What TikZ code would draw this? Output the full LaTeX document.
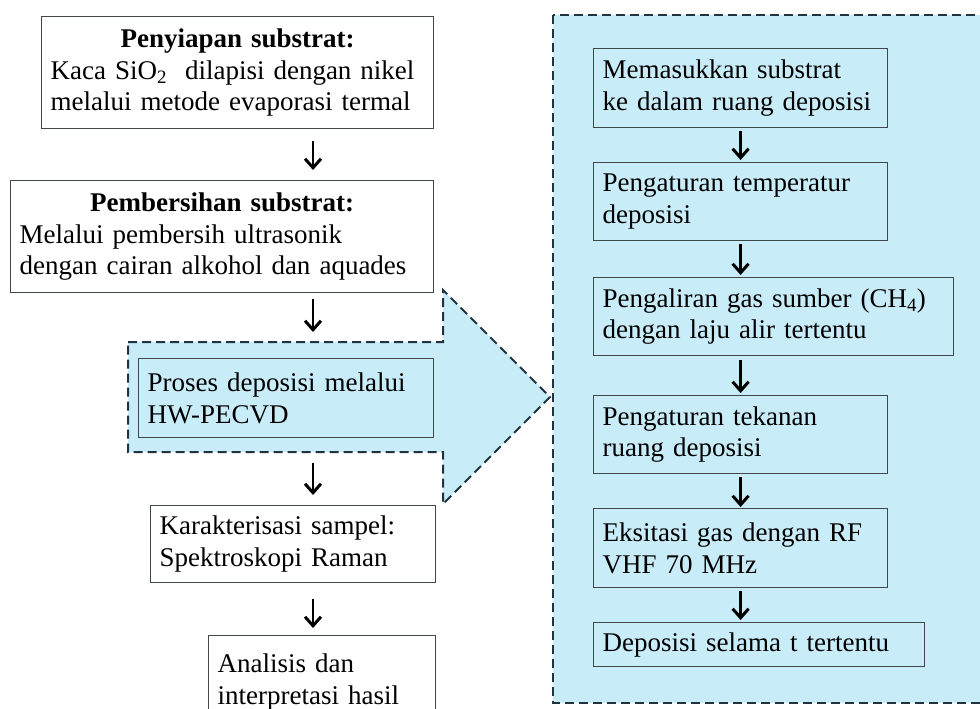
\documentclass[tikz,border=0pt]{standalone}
\usepackage{fontspec}
\setmainfont{Liberation Serif}
\usetikzlibrary{arrows.meta,positioning}
\definecolor{panelblue}{RGB}{201,236,249}
\definecolor{dashcolor}{RGB}{31,52,64}
\definecolor{boxline}{RGB}{64,72,76}
\newcommand{\boxfont}{\fontsize{27}{31.8}\selectfont}
\tikzset{
stepbox/.style n args={2}{draw=boxline, line width=1.2pt, rectangle, align=left,
  inner xsep=9pt, inner ysep=0pt, anchor=north west, text width=#1, minimum height=#2},
bluebox/.style={fill=panelblue},
dashpanel/.style={draw=dashcolor, fill=panelblue, line width=2pt, dash pattern=on 9pt off 5pt},
flowarrow/.style={line width=2.6pt, -{Straight Barb[length=9pt,width=16pt,line width=3pt]}},
}
\tikzstyle{every node}=[font=\boxfont]

\begin{document}
\begin{tikzpicture}[x=1pt, y=-1pt]
        \useasboundingbox (0,0) rectangle (980,709);
        \clip (0,0) rectangle (980,709);

        \draw[dashpanel] (553,15) rectangle (1000,703);
        \draw[dashpanel]
        (128,342) -- (443,342) -- (443,290) -- (550,397)
        -- (443,504) -- (443,452) -- (128,452) -- cycle;

        \coordinate (axis) at (313,0);

        \node[stepbox={374pt}{112pt}] (siap) at (41,16)
        {{\centering\bfseries Penyiapan substrat:\par}
        Kaca SiO\textsubscript{2}\ \ dilapisi dengan nikel\\melalui metode evaporasi termal};
        \node[stepbox={405pt}{112pt}] (bersih) at (10,180)
        {{\centering\bfseries Pembersihan substrat:\par}
        Melalui pembersih ultrasonik\\dengan cairan alkohol dan aquades};
        \node[stepbox={277pt}{79pt}, bluebox] (pecvd) at (138,358)
        {Proses deposisi melalui\\HW-PECVD};
        \node[stepbox={267pt}{77pt}] (karak) at (150,505)
        {Karakterisasi sampel:\\Spektroskopi Raman};
        \node[stepbox={209pt}{93pt}] (analisis) at (208,635)
        {Analisis dan\\interpretasi hasil};

        \node[stepbox={276pt}{79pt}] (masuk) at (593,48)
        {Memasukkan substrat\\ke dalam ruang deposisi};
        \node[stepbox={276pt}{78pt}] (suhu) at (593,162)
        {Pengaturan temperatur\\deposisi};
        \node[stepbox={342pt}{78pt}] (gas) at (593,277)
        {Pengaliran gas sumber (CH\textsubscript{4})\\dengan laju alir tertentu};
        \node[stepbox={276pt}{78pt}] (tekanan) at (593,395)
        {Pengaturan tekanan\\ruang deposisi};
        \node[stepbox={276pt}{79pt}] (eksitasi) at (593,508)
        {Eksitasi gas dengan RF\\VHF 70 MHz};
        \node[stepbox={313pt}{44pt}] (deposisi) at (593,622)
        {Deposisi selama t tertentu};

        \draw[flowarrow, shorten <=12pt, shorten >=10pt] (siap.south -| axis) -- (bersih.north -| axis);
        \draw[flowarrow, shorten <=6pt, shorten >=26pt] (bersih.south -| axis) -- (pecvd.north -| axis);
        \draw[flowarrow, shorten <=25pt, shorten >=10pt] (pecvd.south -| axis) -- (karak.north -| axis);
        \draw[flowarrow, shorten <=16pt, shorten >=7pt] (karak.south -| axis) -- (analisis.north -| axis);

        \draw[flowarrow, shorten <=3pt, shorten >=2pt] (masuk) -- (suhu);
        \draw[flowarrow, shorten <=3pt, shorten >=2pt] (suhu) -- (suhu.south |- gas.north);
        \draw[flowarrow, shorten <=4pt, shorten >=2pt] (gas.south -| tekanan.north) -- (tekanan);
        \draw[flowarrow, shorten <=3pt, shorten >=1pt] (tekanan) -- (eksitasi);
        \draw[flowarrow, shorten <=3pt, shorten >=2pt] (eksitasi) -- (eksitasi.south |- deposisi.north);
    \end{tikzpicture}
\end{document}
